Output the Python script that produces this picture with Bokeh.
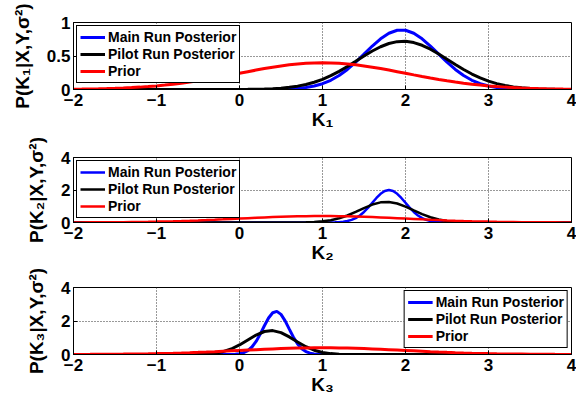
from bokeh.plotting import figure
from bokeh.layouts import column
from bokeh.models import Range1d, FixedTicker, Legend, LegendItem
from bokeh.embed import file_html
from bokeh.resources import INLINE

# ---------------- data ----------------
k_grid = [-2.0, -1.9, -1.8, -1.7, -1.6, -1.5, -1.4, -1.3, -1.2, -1.1,
          -1.0, -0.9, -0.8, -0.7, -0.6, -0.5, -0.4, -0.3, -0.2, -0.1,
          0.0, 0.1, 0.2, 0.3, 0.4, 0.5, 0.6, 0.7, 0.8, 0.9,
          1.0, 1.1, 1.2, 1.3, 1.4, 1.5, 1.6, 1.7, 1.8, 1.9,
          2.0, 2.1, 2.2, 2.3, 2.4, 2.5, 2.6, 2.7, 2.8, 2.9,
          3.0, 3.1, 3.2, 3.3, 3.4, 3.5, 3.6, 3.7, 3.8, 3.9, 4.0]

prior_density = [0.0044, 0.006, 0.0079, 0.0104, 0.0136, 0.0175, 0.0224, 0.0283, 0.0355, 0.044,
                 0.054, 0.0656, 0.079, 0.094, 0.1109, 0.1295, 0.1497, 0.1714, 0.1942, 0.2179,
                 0.242, 0.2661, 0.2897, 0.3123, 0.3332, 0.3521, 0.3683, 0.3814, 0.391, 0.397,
                 0.3989, 0.397, 0.391, 0.3814, 0.3683, 0.3521, 0.3332, 0.3123, 0.2897, 0.2661,
                 0.242, 0.2179, 0.1942, 0.1714, 0.1497, 0.1295, 0.1109, 0.094, 0.079, 0.0656,
                 0.054, 0.044, 0.0355, 0.0283, 0.0224, 0.0175, 0.0136, 0.0104, 0.0079, 0.006, 0.0044]

k1_main = [0, 0, 0, 0, 0, 0, 0, 0, 0, 0,
           0, 0, 0, 0, 0, 0, 0, 0, 0, 0,
           0, 0, 0.0003, 0.0008, 0.0018, 0.0039, 0.008, 0.0157, 0.0293, 0.0516,
           0.0865, 0.1377, 0.2081, 0.299, 0.4074, 0.5275, 0.6489, 0.7574, 0.8397, 0.8842,
           0.8842, 0.8397, 0.7574, 0.6489, 0.5275, 0.4074, 0.299, 0.2081, 0.1377, 0.0865,
           0.0516, 0.0293, 0.0157, 0.008, 0.0039, 0.0018, 0.0008, 0.0003, 0, 0, 0]

k1_pilot = [0, 0, 0, 0, 0, 0, 0, 0, 0, 0,
            0, 0, 0, 0, 0, 0, 0, 0, 0.0003, 0.0006,
            0.0012, 0.0022, 0.0041, 0.0072, 0.0122, 0.0202, 0.0324, 0.0501, 0.075, 0.1086,
            0.1521, 0.2061, 0.2702, 0.3429, 0.4209, 0.4997, 0.5743, 0.6383, 0.6864, 0.7142,
            0.7189, 0.7002, 0.6597, 0.6014, 0.5304, 0.4525, 0.3738, 0.2985, 0.2306, 0.1724,
            0.1246, 0.0872, 0.0591, 0.0387, 0.0245, 0.015, 0.0089, 0.0051, 0.0028, 0.0015, 0.0008]

k2_main_x = [-2.0, 1.0, 1.05, 1.1, 1.15, 1.2, 1.25, 1.3, 1.35, 1.4, 1.45, 1.5, 1.55, 1.6, 1.65,
             1.7, 1.75, 1.8, 1.85, 1.9, 1.95, 2.0, 2.05, 2.1, 2.15, 2.2, 2.25, 2.3, 2.35,
             2.4, 2.45, 2.5, 2.55, 2.6, 4.0]
k2_main = [0, 0.0007, 0.0018, 0.0044, 0.0102, 0.0222, 0.0456, 0.0879, 0.159, 0.271, 0.433, 0.649,
           0.916, 1.213, 1.51, 1.765, 1.938, 2.0, 1.938, 1.765, 1.51, 1.213, 0.916, 0.649, 0.433,
           0.271, 0.159, 0.0879, 0.0456, 0.0222, 0.0102, 0.0044, 0.0018, 0.0007, 0]

k2_pilot_x = [-2.0, 0.5, 0.6, 0.7, 0.8, 0.9, 1.0, 1.1, 1.2, 1.3, 1.4, 1.5, 1.6, 1.7, 1.8, 1.9,
              2.0, 2.1, 2.2, 2.3, 2.4, 2.5, 2.6, 2.7, 2.8, 2.9, 3.0, 4.0]
k2_pilot = [0, 0.0005, 0.0016, 0.0047, 0.0128, 0.0315, 0.0702, 0.1418, 0.26, 0.432, 0.651, 0.89,
            1.103, 1.24, 1.264, 1.17, 0.981, 0.746, 0.515, 0.322, 0.183, 0.094, 0.044, 0.019,
            0.0071, 0.0025, 0.0008, 0]

k3_main_x = [-2.0, -0.2, -0.15, -0.1, -0.05, 0.0, 0.05, 0.1, 0.15, 0.2, 0.25, 0.3, 0.35, 0.4,
             0.45, 0.5, 0.55, 0.6, 0.65, 0.7, 0.75, 0.8, 0.85, 0.9, 0.95, 1.0, 1.05, 1.1, 4.0]
k3_main = [0, 0.0005, 0.0018, 0.006, 0.0174, 0.0459, 0.109, 0.233, 0.448, 0.778, 1.217, 1.716,
           2.18, 2.495, 2.575, 2.394, 2.005, 1.514, 1.03, 0.632, 0.349, 0.174, 0.078, 0.032,
           0.0115, 0.0038, 0.0011, 0.0003, 0]

k3_pilot_x = [-2.0, -0.8, -0.7, -0.6, -0.5, -0.4, -0.3, -0.2, -0.1, 0.0, 0.1, 0.2, 0.3, 0.4,
              0.5, 0.6, 0.7, 0.8, 0.9, 1.0, 1.1, 1.2, 1.3, 1.4, 1.5, 1.6, 4.0]
k3_pilot = [0, 0.0002, 0.0008, 0.0031, 0.0102, 0.0295, 0.0749, 0.1675, 0.329, 0.569, 0.867,
            1.163, 1.373, 1.426, 1.305, 1.05, 0.744, 0.464, 0.255, 0.123, 0.0525, 0.0196,
            0.0065, 0.0019, 0.0005, 0.0001, 0]

x_ticks = [-2, -1, 0, 1, 2, 3, 4]
x_tick_labels = ["\u22122", "\u22121", "0", "1", "2", "3", "4"]
y_ticks_k1 = [0, 0.5, 1]
y_tick_labels_k1 = ["0", "0.5", "1"]
y_ticks_k23 = [0, 2, 4]
y_tick_labels_k23 = ["0", "2", "4"]

series_names = ["Main Run Posterior", "Pilot Run Posterior", "Prior"]
series_colors = ["#0000ff", "#000000", "#ff0000"]

FONT = "Liberation Sans"


def make_panel(height, top, bottom, ymax, yticks, ylabels, xlabel, ylabel,
               curves, legend_loc, lw):
    p = figure(width=576, height=height, output_backend="svg", toolbar_location=None,
               x_range=Range1d(-2, 4), y_range=Range1d(0, ymax),
               min_border_left=73, min_border_right=5,
               min_border_top=top, min_border_bottom=bottom,
               background_fill_color="white", border_fill_color="white")
    p.outline_line_color = "black"
    p.outline_line_width = 1
    p.outline_line_alpha = 1

    p.xaxis.ticker = FixedTicker(ticks=x_ticks)
    p.xaxis.major_label_overrides = {t: s for t, s in zip(x_ticks, x_tick_labels)}
    p.yaxis.ticker = FixedTicker(ticks=yticks)
    p.yaxis.major_label_overrides = {t: s for t, s in zip(yticks, ylabels)}

    for ax in (p.xaxis[0], p.yaxis[0]):
        ax.axis_line_color = "black"
        ax.major_tick_line_color = "black"
        ax.major_tick_in = 4
        ax.major_tick_out = 0
        ax.minor_tick_line_color = None
        ax.major_label_text_font = FONT
        ax.major_label_text_font_style = "bold"
        ax.major_label_text_font_size = "17px"
        ax.major_label_text_color = "black"
        ax.axis_label_text_font = FONT
        ax.axis_label_text_font_style = "bold"
        ax.axis_label_text_color = "black"

    p.xaxis.major_label_standoff = 4
    p.yaxis.major_label_standoff = 3
    p.xaxis.axis_label = xlabel
    p.xaxis.axis_label_text_font_size = "19px"
    p.xaxis.axis_label_standoff = 0
    p.yaxis.axis_label = ylabel
    p.yaxis.axis_label_text_font_size = "19px"
    p.yaxis.axis_label_standoff = 11

    for g in (p.xgrid[0], p.ygrid[0]):
        g.grid_line_color = "#333333"
        g.grid_line_dash = "1 2"
        g.grid_line_width = 1
    p.xgrid[0].ticker = FixedTicker(ticks=x_ticks)
    p.ygrid[0].ticker = FixedTicker(ticks=yticks)

    items = []
    for (xs, ys), name, color in zip(curves, series_names, series_colors):
        r = p.line(xs, ys, line_color=color, line_width=lw)
        items.append(LegendItem(label=name, renderers=[r]))

    leg = Legend(items=items, location=legend_loc)
    leg.border_line_color = "black"
    leg.border_line_width = 1.5
    leg.border_line_alpha = 1
    leg.background_fill_color = "white"
    leg.background_fill_alpha = 1
    leg.label_text_font = FONT
    leg.label_text_font_style = "bold"
    leg.label_text_font_size = "14px"
    leg.label_text_color = "black"
    leg.glyph_width = 25
    leg.glyph_height = 14
    leg.label_height = 14
    leg.spacing = 1
    leg.padding = 3
    leg.margin = 3
    leg.label_standoff = 3
    p.add_layout(leg)
    return p


p1 = make_panel(137, 22, 48, 1, y_ticks_k1, y_tick_labels_k1,
                "K\u2081", "P(K\u2081|X,Y,\u03c3\u00b2)",
                [(k_grid, k1_main), (k_grid, k1_pilot), (k_grid, prior_density)],
                "top_left", 3)
p2 = make_panel(130, 20, 45, 4, y_ticks_k23, y_tick_labels_k23,
                "K\u2082", "P(K\u2082|X,Y,\u03c3\u00b2)",
                [(k2_main_x, k2_main), (k2_pilot_x, k2_pilot), (k_grid, prior_density)],
                "top_left", 2.5)
p3 = make_panel(139, 20, 52, 4, y_ticks_k23, y_tick_labels_k23,
                "K\u2083", "P(K\u2083|X,Y,\u03c3\u00b2)",
                [(k3_main_x, k3_main), (k3_pilot_x, k3_pilot), (k_grid, prior_density)],
                "top_right", 3)

layout = column(p1, p2, p3, spacing=0)

with open("out.html", "w") as f:
    f.write(file_html(layout, INLINE))
